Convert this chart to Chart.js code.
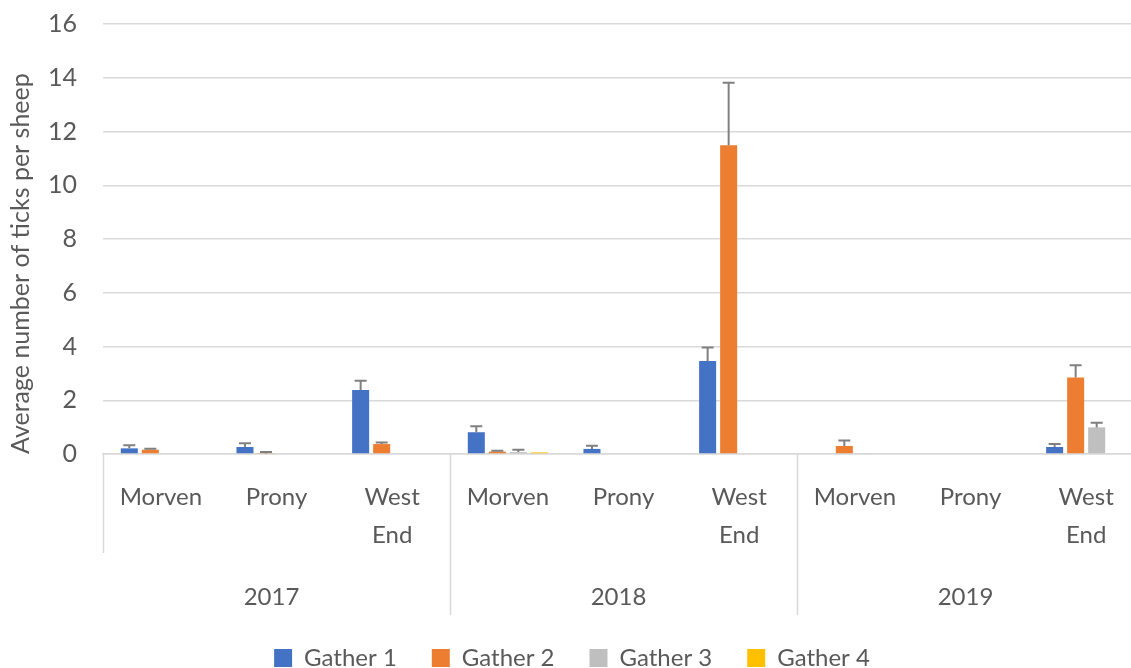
<!DOCTYPE html>
<html>
<head>
<meta charset="utf-8">
<title>Ticks per sheep</title>
<script src="https://cdn.jsdelivr.net/npm/chart.js@4/dist/chart.umd.min.js"></script>
<style>
  html, body { margin: 0; padding: 0; background: #fff; overflow: hidden; }
  #wrap { width: 1144px; height: 668px; }
</style>
</head>
<body>
<div id="wrap"><canvas id="ticks" width="1144" height="668"></canvas></div>
<script>
// sites per year, and the years themselves
const places = ['Morven', 'Prony', ['West', 'End'], 'Morven', 'Prony', ['West', 'End'], 'Morven', 'Prony', ['West', 'End']]
const years = ['2017', '2018', '2019']

// mean ticks per sheep for each gather (2017 x3, 2018 x3, 2019 x3)
const gather1 = [0.21, 0.26, 2.38, 0.81, 0.19, 3.46, 0, 0, 0.26]
const gather2 = [0.16, 0.02, 0.37, 0.09, 0, 11.49, 0.30, 0, 2.85]
const gather3 = [0, 0, 0, 0.07, 0, 0, 0.02, 0, 0.99]
const gather4 = [0, 0, 0, 0.06, 0, 0, 0, 0, 0]

// upper error (standard error) for each gather
const gather1Err = [0.12, 0.14, 0.35, 0.22, 0.12, 0.50, 0, 0, 0.11]
const gather2Err = [0.04, 0.05, 0.06, 0.03, 0, 2.32, 0.20, 0, 0.45]
const gather3Err = [0, 0, 0, 0.09, 0, 0, 0, 0, 0.17]
const gather4Err = [0, 0, 0, 0, 0, 0, 0, 0, 0]

const yTicks = [0, 2, 4, 6, 8, 10, 12, 14, 16]

const textGrey = '#595959'
const lineGrey = '#d9d9d9'

// draws the T shaped error bars on top of each bar
const errorBars = {
  id: 'errorBars',
  afterDatasetsDraw(chart) {
    const ctx = chart.ctx
    const y = chart.scales.y
    ctx.save()
    ctx.strokeStyle = '#808080'
    ctx.lineWidth = 2
    chart.data.datasets.forEach((ds, i) => {
      const meta = chart.getDatasetMeta(i)
      meta.data.forEach((bar, j) => {
        const err = ds.errors[j]
        if (!err) return
        const top = y.getPixelForValue(ds.data[j] + err)
        ctx.beginPath()
        ctx.moveTo(bar.x, bar.y)
        ctx.lineTo(bar.x, top)
        ctx.moveTo(bar.x - 6, top)
        ctx.lineTo(bar.x + 6, top)
        ctx.stroke()
      })
    })
    ctx.restore()
  }
}

// year row under the site labels, with the lines that split the groups
const yearGroups = {
  id: 'yearGroups',
  afterDraw(chart) {
    const ctx = chart.ctx
    const x = chart.scales.x
    const step = x.getPixelForValue(1) - x.getPixelForValue(0)
    ctx.save()
    ctx.strokeStyle = lineGrey
    ctx.lineWidth = 1.5
    for (let k = 0; k <= places.length; k += 3) {
      const px = Math.round(x.getPixelForValue(k) - step / 2) + 0.5
      const bottom = k === 0 ? x.top + 99 : x.top + 161
      ctx.beginPath()
      ctx.moveTo(px, x.top)
      ctx.lineTo(px, bottom)
      ctx.stroke()
    }
    ctx.fillStyle = textGrey
    ctx.font = '24px Lato, "Open Sans", sans-serif'
    ctx.textAlign = 'center'
    ctx.textBaseline = 'middle'
    years.forEach((yr, g) => {
      ctx.fillText(yr, x.getPixelForValue(g * 3 + 1) - 5, x.top + 143)
    })
    ctx.restore()
  }
}

function series(label, data, errors, color) {
  return {
    label: label,
    data: data,
    errors: errors,
    backgroundColor: color,
    borderWidth: 0,
    categoryPercentage: 0.727,
    barPercentage: 0.81
  }
}

Chart.defaults.font.family = 'Lato, "Open Sans", sans-serif'
Chart.defaults.color = textGrey

new Chart(document.getElementById('ticks'), {
  type: 'bar',
  data: {
    labels: places,
    datasets: [
      series('Gather 1', gather1, gather1Err, '#4472c4'),
      series('Gather 2', gather2, gather2Err, '#ed7d31'),
      series('Gather 3', gather3, gather3Err, '#bfbfbf'),
      series('Gather 4', gather4, gather4Err, '#ffc000')
    ]
  },
  options: {
    responsive: false,
    animation: false,
    layout: { padding: { left: 0, right: 0, top: 24, bottom: -12 } },
    plugins: {
      tooltip: { enabled: false },
      legend: {
        position: 'bottom',
        labels: {
          boxWidth: 18,
          boxHeight: 18,
          padding: 35,
          font: { size: 24 },
          color: textGrey
        }
      }
    },
    scales: {
      x: {
        position: 'bottom',
        grid: { display: false, drawTicks: false },
        border: { color: lineGrey, width: 1.5 },
        ticks: {
          padding: 24,
          maxRotation: 0,
          autoSkip: false,
          font: { size: 24, lineHeight: 1.6 },
          color: textGrey
        },
        afterFit(scale) { scale.height = 157 }
      },
      y: {
        min: 0,
        max: 16,
        afterBuildTicks(scale) { scale.ticks = yTicks.map(v => ({ value: v })) },
        grid: { color: lineGrey, lineWidth: 1.5, drawTicks: false },
        border: { display: false },
        ticks: { padding: 26, font: { size: 25 }, color: textGrey },
        title: {
          display: true,
          align: 'start',
          text: 'Average number of ticks per sheep',
          font: { size: 25 },
          color: textGrey,
          padding: { top: 6, bottom: 0 }
        },
        afterFit(scale) {
          scale.width = 103
          scale.paddingTop = 0
          scale.paddingBottom = 0
        }
      }
    }
  },
  plugins: [errorBars, yearGroups]
})
</script>
</body>
</html>
